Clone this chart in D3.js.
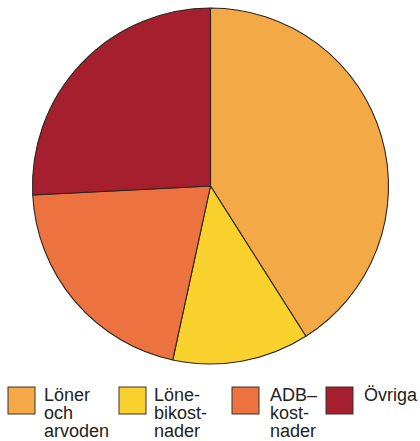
<!DOCTYPE html>
<html><head><meta charset="utf-8">
<script src="https://cdn.jsdelivr.net/npm/d3@7"></script>
<style>html,body{margin:0;padding:0;background:#fff;}svg{display:block;}</style>
</head><body>
<svg id="chart" width="420" height="441"></svg>
<script>
const categories = ["Löner och arvoden", "Lönebikostnader", "ADB–kostnader", "Övriga"];
const values = [41.0, 12.4, 20.8, 25.8];
const legendLines = [["Löner", "och", "arvoden"], ["Löne-", "bikost-", "nader"], ["ADB–", "kost-", "nader"], ["Övriga"]];
const colors = ["#F4A947", "#F8D12C", "#EC7240", "#A61F2E"];

const svg = d3.select("#chart");
const cx = 210.5, cy = 186, r = 178;
const color = d3.scaleOrdinal().domain(categories).range(colors);
const pie = d3.pie().sort(null).value(d => d.v);
const data = categories.map((c, i) => ({c, v: values[i]}));
const arc = d3.arc().innerRadius(0).outerRadius(r);

svg.append("g").attr("transform", `translate(${cx},${cy})`)
  .selectAll("path").data(pie(data)).join("path")
  .attr("d", arc)
  .attr("fill", d => color(d.data.c))
  .attr("stroke", "#2a2420").attr("stroke-width", 1.1).attr("stroke-linejoin", "round");

const legendX = d3.scalePoint().domain(categories).range([8, 326]);
const lg = svg.append("g").selectAll("g").data(categories).join("g")
  .attr("transform", (d, i) => `translate(${[8, 119, 232, 326][i]},387)`);
lg.append("rect").attr("width", 27).attr("height", 27)
  .attr("fill", d => color(d)).attr("stroke", "#3a302a").attr("stroke-width", 1);
lg.each(function(d, i) {
  const t = d3.select(this).append("text")
    .attr("x", [36, 35, 38, 38][i]).attr("y", 14)
    .attr("font-family", "Liberation Sans, Arial, sans-serif")
    .attr("font-size", 18).attr("fill", "#222");
  legendLines[i].forEach((line, j) => {
    t.append("tspan").attr("x", [36, 35, 38, 38][i]).attr("y", 14 + j * 18).text(line);
  });
});
</script>
</body></html>
